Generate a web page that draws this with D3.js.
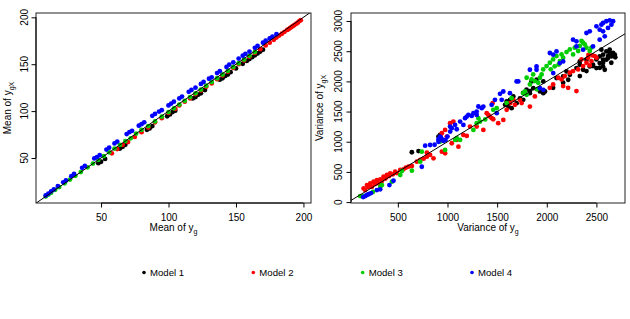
<!DOCTYPE html>
<meta charset="utf-8">
<style>
	body { margin: 0; background: #fff; }
	text { font-family: "Liberation Sans", Arial, sans-serif; fill: #000; }
</style>
<body>
	<script src="https://d3js.org/d3.v7.min.js"></script>
	<script>

		var width = 630;
		var height = 319;

		var models = ["Model 1", "Model 2", "Model 3", "Model 4"];
		var modelColors = ["#000000", "#FF0000", "#00CD00", "#0000FF"];

		var meanTicks = [50, 100, 150, 200];
		var varTicksX = [500, 1000, 1500, 2000, 2500];
		var varTicksY = [0, 500, 1000, 1500, 2000, 2500, 3000];

		// mean of y_g vs mean of y_gX, one array per model
		var mean1 = [[48,44.5],[50,46],[53,49],[64,60],[66,62],[68,64],[84,80],[86,81.5],[88,84],[99,94.5],[101,96.5],[103,99],[105,100.5],[118,113.5],[120,115],[122,117.5],[124,119],[127,122.5],[138,133.5],[140,135],[142,137.5],[144,139],[146,141.5],[150,145.5],[155,150.5],[158,153.5],[160,155.5],[162,157.5],[164,159.5],[166,161.5],[168,163.5],[170,165.5]];
		var mean2 = [[58,55],[62,59.5],[66,64],[70,67],[75,72.5],[80,77.5],[85,82.5],[90,88],[95,92.5],[100,98],[105,102.5],[108,106],[112,110],[116,113.5],[120,118],[124,122],[128,126],[132,129.5],[136,134],[140,138],[144,142],[148,146],[152,150],[156,154],[160,158],[164,162],[168,166],[172,170],[175,173],[178,176],[180,178.5],[182,180.5],[184,182.5],[186,184.5],[188,186.5],[189,187.5],[190,188.5],[191,189.5],[192,190.5],[193,191.5],[194,192.5],[195,193.5],[196,194.5],[197,196],[198,197]];
		var mean3 = [[9,9],[11,11],[13,13],[16,16],[19,19],[23,23],[27,27],[31,31],[35,35],[40,40],[44,44],[48,48],[52,52],[56,56],[60,60],[64,64],[68,68],[72,71],[76,76],[80,80],[85,84],[90,89],[95,94],[100,99],[104,103],[108,107],[112,111],[116,115],[120,119],[124,123],[128,127],[132,131],[136,135],[140,139],[144,143],[148,147],[152,151],[156,155],[160,159],[164,163]];
		var mean4 = [[9,10],[11,12],[13,14.5],[15,16.5],[18,20],[22,24],[24,26],[28,30.5],[30,33],[36,39.5],[38,41.5],[45,49.5],[47,51],[49,53],[54,59],[56,61],[60,65.5],[62,67.5],[69,75.5],[71,77.5],[73,79],[78,84.5],[80,86],[82,88],[88,95],[90,97],[93,99.5],[95,101],[100,106],[102,108],[104,110],[108,113.5],[110,115.5],[115,120.5],[117,122.5],[120,125],[124,129],[126,131],[130,134.5],[132,136],[136,140.5],[138,142.5],[143,147],[145,149.5],[148,152],[152,156],[155,159],[157,161],[160,163.5],[164,167.5],[166,169.5],[170,173],[172,175],[175,177.5],[177,179.5],[180,182]];

		// variance of y_g vs variance of y_gX, one array per model
		var var1 = [[641,826],[708,846],[909,1085],[925,1113],[930,1070],[1580,1611],[1596,1667],[1613,1584],[1629,1694],[1646,1556],[1663,1750],[1696,1639],[1730,1720],[1763,1694],[1762,1810],[1796,1865],[1829,1839],[1830,1805],[1847,2000],[1864,1888],[1897,2027],[1931,1833],[1965,1805],[1982,1833],[1965,2000],[2064,1894],[2098,2054],[2165,1977],[2165,2082],[2199,2165],[2216,2027],[2233,2110],[2299,2220],[2333,2088],[2333,2276],[2333,2331],[2366,2193],[2400,2171],[2400,2359],[2433,2248],[2466,2254],[2466,2276],[2500,2220],[2500,2364],[2500,2387],[2533,2303],[2533,2414],[2534,2226],[2550,2525],[2567,2248],[2567,2309],[2567,2359],[2567,2442],[2584,2193],[2600,2359],[2600,2497],[2617,2387],[2617,2420],[2634,2470],[2634,2525],[2650,2309],[2651,2414],[2667,2447],[2668,2470],[2685,2442],[2690,2400]];
		var var2 = [[155,227],[170,200],[189,282],[200,250],[222,310],[239,254],[255,337],[270,300],[289,365],[306,310],[323,377],[340,350],[356,420],[375,390],[390,449],[410,430],[423,476],[450,460],[473,504],[490,480],[524,532],[557,543],[580,570],[607,587],[641,598],[691,670],[725,698],[760,720],[792,753],[792,819],[825,781],[859,726],[943,836],[976,809],[943,1141],[976,1196],[993,1085],[1026,1307],[1059,1334],[1043,975],[1093,1030],[1110,919],[1160,1113],[1194,1096],[1227,1251],[1294,1251],[1361,1196],[1395,1473],[1411,1445],[1428,1417],[1445,1390],[1455,1640],[1461,1373],[1511,1307],[1562,1362],[1596,1528],[1629,1639],[1663,1694],[1679,1611],[1730,1694],[1747,1640],[1830,1583],[1880,1750],[2031,1894],[2064,1949],[2115,2060],[2149,2032],[2165,1922],[2182,2088],[2215,1894],[2232,2143],[2265,2171],[2299,1839],[2316,2198],[2350,2364],[2366,2254],[2400,2309],[2416,2392],[2420,2440],[2433,2264],[2450,2337],[2460,2430],[2483,2420],[2500,2392]];
		var var3 = [[120,100],[155,100],[205,133],[250,170],[323,254],[340,282],[440,338],[524,449],[541,515],[641,520],[725,670],[741,836],[926,1002],[976,864],[1077,1030],[1093,1058],[1127,1030],[1261,1196],[1294,1307],[1311,1390],[1328,1334],[1380,1370],[1461,1528],[1495,1556],[1596,1640],[1646,1722],[1763,1805],[1780,1832],[1797,1777],[1797,2060],[1830,1949],[1847,2032],[1863,2115],[1880,2005],[1900,1870],[1914,1977],[1931,2060],[1948,2115],[1964,2198],[1998,2254],[2031,2309],[2040,2200],[2064,2364],[2080,2250],[2098,2420],[2120,2280],[2132,2337],[2149,2447],[2165,2392],[2199,2486],[2232,2530],[2265,2447],[2282,2558],[2316,2503],[2333,2586],[2350,2669],[2366,2641],[2383,2613],[2400,2558],[2433,2503],[2450,2560]];
		var var4 = [[151,83],[172,100],[185,116],[205,130],[230,150],[289,199],[322,211],[415,282],[456,354],[741,586],[775,935],[825,946],[870,950],[909,1000],[909,1041],[925,1085],[933,1069],[942,1041],[959,1013],[980,1030],[1000,1085],[1026,1251],[1027,1168],[1043,1224],[1076,1279],[1093,1207],[1127,1334],[1160,1279],[1177,1390],[1194,1417],[1211,1445],[1244,1428],[1261,1473],[1294,1445],[1294,1500],[1311,1584],[1345,1556],[1361,1583],[1445,1611],[1478,1694],[1496,1473],[1529,1794],[1546,1694],[1562,1832],[1629,1805],[1696,2000],[1713,2000],[1830,2193],[1897,2193],[1897,2248],[1931,1888],[1965,1860],[2031,2470],[2065,2137],[2065,2442],[2098,2497],[2132,2303],[2165,2331],[2265,2691],[2299,2580],[2299,2663],[2366,2525],[2400,2802],[2433,2830],[2466,2580],[2500,2913],[2533,2691],[2533,2857],[2550,2940],[2567,2830],[2567,2968],[2584,2746],[2600,2996],[2617,2885],[2634,3012],[2651,2940],[2668,2996]];

		var panels = [
			{id: "mean", left: 36, right: 311, top: 13, bottom: 203,
			 xDomain: [1.8, 205.6], yDomain: [2, 204.6],
			 xTicks: meanTicks, yTicks: meanTicks,
			 series: [mean1, mean2, mean3, mean4],
			 xLabel: ["Mean of y", "g"], yLabel: ["Mean of y", "gX"],
			 yTickX: 27.5, yLabelX: 11},
			{id: "var", left: 351, right: 625, top: 13, bottom: 203,
			 xDomain: [28, 2788], yDomain: [-15, 3133],
			 xTicks: varTicksX, yTicks: varTicksY,
			 series: [var1, var2, var3, var4],
			 xLabel: ["Variance of y", "g"], yLabel: ["Variance of y", "gX"],
			 yTickX: 341.5, yLabelX: 323}
		];

		var tickLen = 4.5;
		var pointR = 2.4;

		var svg = d3.select("body").append("svg")
			.attr("width", width)
			.attr("height", height);

		function addLabel(sel, parts) {
			sel.append("tspan").text(parts[0]);
			sel.append("tspan")
				.attr("font-size", "7px")
				.attr("dy", 2.5)
				.text(parts[1]);
		}

		panels.forEach(function(p) {
			var x = d3.scaleLinear().domain(p.xDomain).range([p.left, p.right]);
			var y = d3.scaleLinear().domain(p.yDomain).range([p.bottom, p.top]);

			svg.append("clipPath")
				.attr("id", "clip-" + p.id)
				.append("rect")
				.attr("x", p.left)
				.attr("y", p.top)
				.attr("width", p.right - p.left)
				.attr("height", p.bottom - p.top);

			var g = svg.append("g").attr("clip-path", "url(#clip-" + p.id + ")");

			// points, model 1 drawn first
			p.series.forEach(function(s, i) {
				g.selectAll("circle.m" + i)
					.data(s)
					.enter()
					.append("circle")
					.attr("class", "m" + i)
					.attr("cx", function(d) { return x(d[0]); })
					.attr("cy", function(d) { return y(d[1]); })
					.attr("r", pointR)
					.attr("fill", modelColors[i]);
			});

			// y = x reference line
			var lo = Math.min(p.xDomain[0], p.yDomain[0]);
			var hi = Math.max(p.xDomain[1], p.yDomain[1]);
			g.append("line")
				.attr("x1", x(lo)).attr("y1", y(lo))
				.attr("x2", x(hi)).attr("y2", y(hi))
				.attr("stroke", "black")
				.attr("stroke-width", 1);

			// box
			svg.append("rect")
				.attr("x", p.left)
				.attr("y", p.top)
				.attr("width", p.right - p.left)
				.attr("height", p.bottom - p.top)
				.attr("fill", "none")
				.attr("stroke", "#222")
				.attr("stroke-width", 1);

			// x axis
			var xAxis = d3.axisBottom(x)
				.tickValues(p.xTicks)
				.tickSize(tickLen)
				.tickPadding(6)
				.tickFormat(d3.format("d"));
			var ax = svg.append("g")
				.attr("transform", "translate(0," + p.bottom + ")")
				.call(xAxis);
			ax.select(".domain")
				.attr("d", "M" + x(p.xTicks[0]) + ",0H" + x(p.xTicks[p.xTicks.length - 1]));
			ax.selectAll("text")
				.attr("font-family", "Liberation Sans, Arial, sans-serif")
				.attr("font-size", "10px")
				.attr("fill", "#222");

			// y axis, labels rotated like R
			var yAxis = d3.axisLeft(y)
				.tickValues(p.yTicks)
				.tickSize(tickLen)
				.tickFormat("");
			var ay = svg.append("g")
				.attr("transform", "translate(" + p.left + ",0)")
				.call(yAxis);
			ay.select(".domain")
				.attr("d", "M0," + y(p.yTicks[0]) + "V" + y(p.yTicks[p.yTicks.length - 1]));

			svg.selectAll("text.yt-" + p.id)
				.data(p.yTicks)
				.enter()
				.append("text")
				.attr("class", "yt-" + p.id)
				.attr("transform", function(d) { return "translate(" + p.yTickX + "," + y(d) + ") rotate(-90)"; })
				.attr("text-anchor", "middle")
				.attr("font-size", "10px")
				.attr("fill", "#222")
				.text(function(d) { return d; });

			// axis titles
			var xl = svg.append("text")
				.attr("x", (p.left + p.right) / 2)
				.attr("y", 231)
				.attr("text-anchor", "middle")
				.attr("font-size", "10px")
				.attr("fill", "#222");
			addLabel(xl, p.xLabel);

			var yl = svg.append("text")
				.attr("transform", "translate(" + p.yLabelX + "," + (p.top + p.bottom) / 2 + ") rotate(-90)")
				.attr("text-anchor", "middle")
				.attr("font-size", "10px")
				.attr("fill", "#222");
			addLabel(yl, p.yLabel);
		});

		// legend
		var legendX = d3.scalePoint().domain(models).range([144, 472]);
		var leg = svg.selectAll("g.legend")
			.data(models)
			.enter()
			.append("g")
			.attr("class", "legend")
			.attr("transform", function(d) { return "translate(" + legendX(d) + ",272.5)"; });
		leg.append("circle")
			.attr("r", 1.8)
			.attr("fill", function(d, i) { return modelColors[i]; });
		leg.append("text")
			.attr("x", 6)
			.attr("y", 3.5)
			.attr("font-size", "9.6px")
			.attr("fill", "#222")
			.text(function(d) { return d; });

	</script>
</body>
